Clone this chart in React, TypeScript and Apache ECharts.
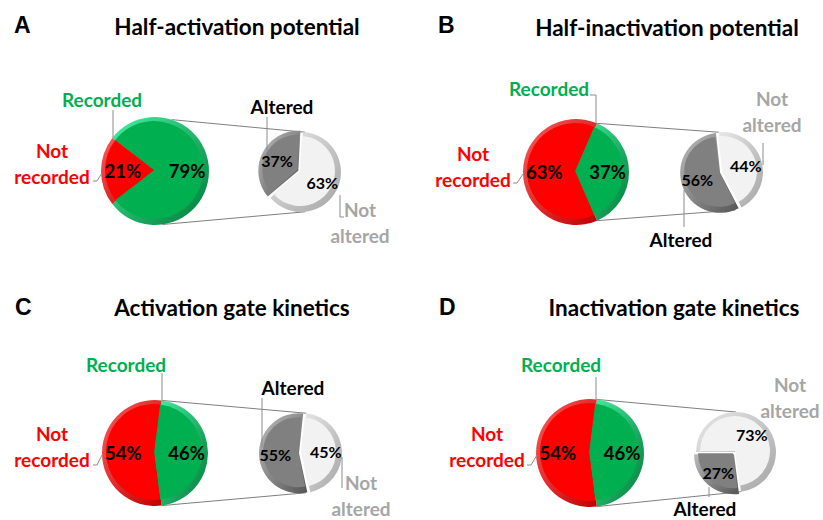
import React, { useEffect, useRef } from "react";
import * as echarts from "echarts";

const panelLetters = ["A", "B", "C", "D"];
const panelTitles = [
  "Half-activation potential",
  "Half-inactivation potential",
  "Activation gate kinetics",
  "Inactivation gate kinetics",
];
const mainCategories = ["Recorded", "Not recorded"];
const subCategories = ["Altered", "Not altered"];
const recordedPct = [79, 37, 46, 46];
const notRecordedPct = [21, 63, 54, 54];
const alteredPct = [37, 56, 55, 27];
const notAlteredPct = [63, 44, 45, 73];

type Pt = [number, number];
interface Layout {
  letter: Pt;
  title: Pt;
  big: [number, number, number];
  small: [number, number, number];
  smallStart: number;
  bigConn: [number, number] | null;
  smallConn: [number, number];
  recLabel: Pt;
  recLeader: Pt[];
  notRecLabel: Pt;
  notRecLeader: Pt[];
  altLabel: Pt;
  altLeader: Pt[];
  notAltLabel: Pt;
  notAltLeader: Pt[];
}

const layouts: Layout[] = [
  {
    letter: [14, 25], title: [237, 26], big: [155, 171, 54], small: [301, 172, 40],
    smallStart: 87, bigConn: [72, -82], smallConn: [84, -84],
    recLabel: [102, 99], recLeader: [[113, 110], [113, 138]],
    notRecLabel: [52, 163], notRecLeader: [[93, 181], [97, 181], [102, 173]],
    altLabel: [282, 106], altLeader: [[267, 117], [267, 151]],
    notAltLabel: [360, 222], notAltLeader: [[340, 195], [340, 217], [344, 217]],
  },
  {
    letter: [438, 25], title: [667, 27], big: [576, 172, 53], small: [723, 172, 40],
    smallStart: 96, bigConn: null, smallConn: [96, -72],
    recLabel: [549, 88], recLeader: [[590, 95], [596, 95], [596, 123]],
    notRecLabel: [473, 166], notRecLeader: [[513, 183], [517, 183], [523, 174]],
    altLabel: [681, 239], altLeader: [[684, 190], [684, 227]],
    notAltLabel: [772, 111], notAltLeader: [[763, 143], [763, 165]],
  },
  {
    letter: [15, 307], title: [232, 307], big: [155, 453, 53], small: [302, 453, 40],
    smallStart: 84, bigConn: null, smallConn: [84, -84],
    recLabel: [126, 364], recLeader: [[162, 373], [162, 400]],
    notRecLabel: [52, 446], notRecLeader: [[93, 465], [97, 465], [102, 455]],
    altLabel: [293, 387], altLeader: [[262, 398], [262, 447]],
    notAltLabel: [361, 495], notAltLeader: [[342, 457], [342, 488]],
  },
  {
    letter: [439, 307], title: [674, 307], big: [590, 453, 54], small: [736, 452, 40],
    smallStart: 180, bigConn: null, smallConn: [90, -83],
    recLabel: [561, 364], recLeader: [[596, 377], [596, 400]],
    notRecLabel: [487, 446], notRecLeader: [[527, 465], [531, 465], [537, 455]],
    altLabel: [705, 508], altLeader: [[709, 487], [709, 497]],
    notAltLabel: [790, 397], notAltLeader: [],
  },
];

const FONT = "Lato";
const GREEN = "#00B050";
const RED = "#FF0000";
const DARK = "#808080";
const LIGHT = "#F2F2F2";
const GRAYTEXT = "#A6A6A6";

function grad(c1: string, c2: string) {
  return new echarts.graphic.LinearGradient(0, 0, 1, 1, [
    { offset: 0, color: c1 },
    { offset: 1, color: c2 },
  ]);
}

function pt(cx: number, cy: number, r: number, deg: number): Pt {
  const a = (deg * Math.PI) / 180;
  return [cx + r * Math.cos(a), cy - r * Math.sin(a)];
}

function buildOption() {
  const series: any[] = [];
  const graphics: any[] = [];

  layouts.forEach((L, i) => {
    const [bx, by, br] = L.big;
    const [sx, sy, sr] = L.small;
    const bigStart = recordedPct[i] * 1.8;

    const bigData = (kind: "rim" | "face" | "lab") => [
      {
        name: mainCategories[0],
        value: recordedPct[i],
        itemStyle: {
          color: kind === "rim" ? grad("#45F0A0", "#007A36") : kind === "face" ? GREEN : "transparent",
        },
      },
      {
        name: mainCategories[1],
        value: notRecordedPct[i],
        itemStyle: {
          color: kind === "rim" ? grad("#FF5A5A", "#C00000") : kind === "face" ? RED : "transparent",
        },
      },
    ];
    const smallData = (kind: "rim" | "face" | "lab") => [
      {
        name: subCategories[1],
        value: notAlteredPct[i],
        itemStyle: {
          color: kind === "rim" ? grad("#E8E8E8", "#A5A5A5") : kind === "face" ? LIGHT : "transparent",
        },
      },
      {
        name: subCategories[0],
        value: alteredPct[i],
        selected: true,
        itemStyle: {
          color: kind === "rim" ? grad("#BDBDBD", "#555555") : kind === "face" ? DARK : "transparent",
        },
      },
    ];

    const common = {
      type: "pie",
      clockwise: true,
      silent: true,
      animation: false,
      emphasis: { disabled: true },
      labelLine: { show: false },
      avoidLabelOverlap: false,
    };

    series.push({ ...common, z: 2, center: [bx, by], radius: br, startAngle: bigStart, label: { show: false }, data: bigData("rim") });
    series.push({ ...common, z: 3, center: [bx - 1, by - 1], radius: br - 5, startAngle: bigStart, label: { show: false }, data: bigData("face") });
    series.push({
      ...common, z: 4, center: [bx, by], radius: br * 1.08, startAngle: bigStart,
      label: { show: true, position: "inside", formatter: "{c}%", fontSize: 18.5, fontWeight: "bold", fontFamily: FONT, color: "#000" },
      data: bigData("lab"),
    });

    const smallCommon = { ...common, selectedMode: "single", selectedOffset: 3, startAngle: L.smallStart };
    series.push({ ...smallCommon, z: 2, center: [sx, sy], radius: sr, label: { show: false }, data: smallData("rim") });
    series.push({ ...smallCommon, z: 3, center: [sx - 1, sy - 1], radius: sr - 5, label: { show: false }, data: smallData("face") });
    series.push({
      ...smallCommon, z: 4, center: [sx, sy], radius: sr * 1.04,
      label: { show: true, position: "inside", formatter: "{c}%", fontSize: 16, fontWeight: "bold", fontFamily: FONT, color: "#000" },
      data: smallData("lab"),
    });

    // connectors
    const bc = L.bigConn || [bigStart, -bigStart];
    const b1 = pt(bx, by, br, bc[0]);
    const b2 = pt(bx, by, br, bc[1]);
    const s1 = pt(sx, sy, sr, L.smallConn[0]);
    const s2 = pt(sx, sy, sr, L.smallConn[1]);
    graphics.push({ type: "line", z: 1, shape: { x1: b1[0], y1: b1[1], x2: s1[0], y2: s1[1] }, style: { stroke: "#7F7F7F", lineWidth: 1 } });
    graphics.push({ type: "line", z: 1, shape: { x1: b2[0], y1: b2[1], x2: s2[0], y2: s2[1] }, style: { stroke: "#7F7F7F", lineWidth: 1 } });

    // panel letter & title
    graphics.push({
      type: "text", x: L.letter[0], y: L.letter[1],
      style: { text: panelLetters[i], fontSize: 23, fontWeight: "bold", fontFamily: "Liberation Sans", fill: "#000", textAlign: "left", textVerticalAlign: "middle" },
    });
    graphics.push({
      type: "text", x: L.title[0], y: L.title[1],
      style: { text: panelTitles[i], fontSize: 22.5, fontWeight: "bold", fontFamily: FONT, fill: "#000", textAlign: "center", textVerticalAlign: "middle" },
    });

    const label = (p: Pt, text: string, fill: string) => ({
      type: "text", x: p[0], y: p[1], z: 5,
      style: { text, fontSize: 19, fontWeight: "bold", fontFamily: FONT, fill, textAlign: "center", textVerticalAlign: "middle", lineHeight: 26 },
    });
    const leader = (pts: Pt[]) => ({
      type: "polyline", z: 5, shape: { points: pts }, style: { stroke: "#8C8C8C", lineWidth: 1, fill: null },
    });

    graphics.push(label(L.recLabel, mainCategories[0], GREEN));
    graphics.push(label(L.notRecLabel, "Not\nrecorded", RED));
    graphics.push(label(L.altLabel, subCategories[0], "#000"));
    graphics.push(label(L.notAltLabel, "Not\naltered", GRAYTEXT));
    [L.recLeader, L.notRecLeader, L.altLeader, L.notAltLeader].forEach((l) => {
      if (l.length > 1) graphics.push(leader(l));
    });
  });

  return {
    animation: false,
    backgroundColor: "#fff",
    series,
    graphic: { elements: graphics },
  };
}

export default function App() {
  const ref = useRef<HTMLDivElement>(null);
  useEffect(() => {
    document.body.style.margin = "0";
    if (!ref.current) return;
    const chart = echarts.init(ref.current, undefined, { renderer: "svg" });
    chart.setOption(buildOption() as any);
    return () => chart.dispose();
  }, []);
  return <div ref={ref} style={{ width: 823, height: 520 }} />;
}
